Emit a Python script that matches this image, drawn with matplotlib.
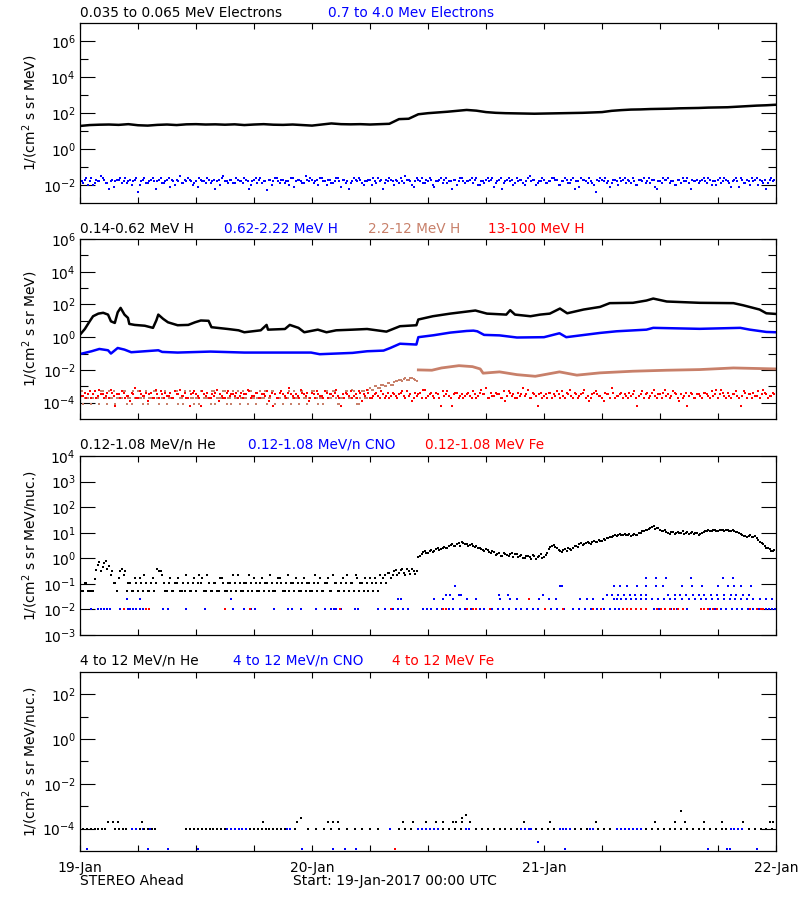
import matplotlib
matplotlib.use('Agg')
import matplotlib.pyplot as plt
import numpy as np

plt.rcParams['font.family'] = 'DejaVu Sans'
plt.rcParams['mathtext.fontset'] = 'dejavusans'

BLUE = '#0000ff'
RED = '#ff0000'
TAN = '#c8806a'

# all values are log10 of the flux; times are hours after 19-Jan-2017 00:00 UTC
# noisy channels are read as two interleaved 20-minute series (":00" and ":10" offsets)

# --- panel 1: electrons
e_lo_v = [1.28, 1.33, 1.35, 1.36, 1.34, 1.38, 1.32, 1.30, 1.34, 1.36,
          1.33, 1.37, 1.38, 1.36, 1.37, 1.35, 1.37, 1.33, 1.36, 1.38,
          1.35, 1.34, 1.36, 1.33, 1.30, 1.36, 1.42, 1.38, 1.37, 1.38,
          1.36, 1.38, 1.40, 1.66, 1.68, 1.93, 1.99, 2.03, 2.07, 2.12,
          2.17, 2.13, 2.05, 2.01, 1.99, 1.98, 1.97, 1.96, 1.97, 1.98,
          1.99, 2.00, 2.01, 2.03, 2.05, 2.12, 2.16, 2.19, 2.20, 2.22,
          2.23, 2.24, 2.26, 2.27, 2.28, 2.30, 2.31, 2.32, 2.35, 2.38,
          2.41, 2.43, 2.46]
e_hi_v = [-1.7, -1.9, -1.6, -1.8, -2.0, -1.7, -1.8, -1.6, -1.9, -2.2, -1.7, -1.8, -1.7, -1.9, -1.6, -1.8, -2.0, -1.7, -2.4, -1.8, -1.6, -1.9, -1.7, -1.8,
          -1.8, -1.6, -1.9, -1.7, -2.1, -1.8, -1.7, -1.5, -1.9, -1.8, -1.7, -2.0, -1.8, -1.6, -1.8, -1.9, -1.7, -1.8, -2.2, -1.7, -1.6, -1.8, -1.9, -1.7,
          -1.9, -1.7, -1.8, -1.6, -1.8, -2.0, -1.7, -1.9, -1.6, -1.8, -2.3, -1.7, -1.8, -1.6, -1.9, -1.7, -1.8, -2.0, -1.6, -1.8, -1.7, -1.9, -1.5, -1.8,
          -1.7, -1.8, -2.0, -1.6, -1.8, -1.7, -1.9, -1.8, -1.6, -2.1, -1.7, -1.8, -1.9, -1.6, -1.8, -1.7, -2.0, -1.8, -1.7, -1.6, -1.9, -1.8, -2.2, -1.7,
          -1.6, -1.8, -1.7, -1.9, -1.8, -1.5, -1.7, -2.0, -1.8, -1.7, -1.6, -1.9, -1.8, -1.7, -2.1, -1.8, -1.6, -1.7, -1.9, -1.8, -1.7, -2.0, -1.6, -1.8,
          -1.8, -1.7, -1.9, -1.6, -2.0, -1.8, -1.7, -1.8, -1.6, -1.9, -1.7, -2.2, -1.8, -1.6, -1.7, -1.9, -1.8, -1.7, -2.0, -1.6, -1.8, -1.7, -1.9, -1.8,
          -1.7, -1.9, -1.8, -1.6, -1.7, -2.0, -1.8, -1.7, -1.9, -1.6, -1.8, -2.1, -1.7, -1.8, -1.6, -1.9, -2.4, -1.8, -1.7, -1.6, -1.8, -1.9, -1.7, -2.0,
          -1.8, -1.6, -1.7, -1.9, -1.8, -2.0, -1.7, -1.6, -1.8, -1.9, -1.7, -2.2, -1.8, -1.6, -1.7, -1.9, -1.8, -2.0, -1.7, -1.6, -1.8, -1.9, -1.7, -1.8,
          -1.9, -1.7, -1.8, -1.6, -2.0, -1.8, -1.7, -1.9, -1.6, -1.8, -2.1, -1.7, -1.8, -1.6, -1.9, -1.7, -2.0, -1.8, -1.6, -1.7, -1.9, -2.2, -1.7, -1.8]
e_hi_v2 = [-1.8, -1.7, -2.0, -1.6, -1.9, -1.8, -1.5, -1.7, -1.9, -1.8, -2.1, -1.7, -1.6, -1.8, -1.9, -1.7, -1.8, -1.6, -2.0, -1.7, -1.9, -1.8, -1.6, -2.2,
           -1.7, -1.9, -1.8, -1.6, -1.7, -2.0, -1.8, -1.9, -1.7, -1.6, -1.8, -1.9, -2.1, -1.7, -1.8, -1.6, -1.9, -1.7, -1.8, -2.0, -1.5, -1.8, -1.7, -1.9,
           -1.6, -1.8, -1.9, -1.7, -2.2, -1.8, -1.6, -1.7, -1.9, -1.8, -1.7, -2.0, -1.6, -1.8, -1.7, -1.9, -1.8, -1.6, -2.1, -1.7, -1.8, -1.9, -1.7, -1.6,
           -1.9, -1.7, -1.6, -1.8, -2.0, -1.7, -1.9, -1.6, -1.8, -1.7, -1.9, -2.2, -1.8, -1.7, -1.6, -1.9, -1.8, -1.7, -2.0, -1.8, -1.6, -1.7, -1.9, -1.8,
           -1.7, -2.0, -1.8, -1.6, -1.9, -1.7, -1.8, -2.1, -1.6, -1.8, -1.9, -1.7, -1.6, -2.0, -1.8, -1.7, -1.9, -1.6, -1.8, -2.2, -1.7, -1.8, -1.6, -1.9,
           -1.8, -1.6, -1.7, -2.0, -1.8, -1.9, -1.6, -1.7, -2.1, -1.8, -1.6, -1.9, -1.7, -1.8, -2.0, -1.6, -1.7, -1.9, -1.8, -1.5, -1.7, -2.0, -1.8, -1.6,
           -1.9, -1.8, -1.6, -1.7, -2.0, -1.8, -1.6, -1.9, -1.7, -2.2, -1.8, -1.6, -1.7, -1.9, -1.8, -2.0, -1.7, -1.6, -1.8, -1.9, -2.1, -1.7, -1.8, -1.6,
           -1.7, -1.9, -1.8, -1.6, -2.0, -1.7, -1.8, -1.9, -1.6, -1.7, -2.1, -1.8, -1.9, -1.7, -1.6, -1.8, -2.0, -1.7, -1.9, -1.8, -1.6, -2.2, -1.8, -1.7,
           -1.8, -1.6, -1.9, -1.7, -1.8, -2.0, -1.6, -1.8, -1.7, -1.9, -1.8, -1.6, -2.1, -1.7, -1.9, -1.8, -1.6, -1.7, -2.0, -1.8, -1.7, -1.9, -1.6, -1.7]

# --- panel 2: protons
h1_t = [0.07, 0.5, 1.0, 1.35, 1.9, 2.4, 2.9, 3.2, 3.6, 3.9, 4.2, 4.6, 4.96, 5.1, 5.65, 6.7, 7.55, 7.9,
        8.1, 8.6, 9.1, 10.1, 11.2, 11.9, 12.5, 13.3, 13.6, 15.3, 16.4, 17.0, 18.7, 19.3, 19.45, 21.2,
        21.7, 22.6, 23.2, 24.6, 25.5, 26.5, 28.2, 29.7, 31.7, 33.1, 34.8, 35.0, 36.5, 38.3, 40.9, 42.1,
        44.1, 44.5, 45.0, 46.6, 47.6, 48.6, 49.65, 50.4, 52.1, 53.8, 54.8, 57.2, 58.6, 59.3, 60.7, 64.1,
        67.6, 68.6, 70.3, 71.0, 72.0]
h1_v = [0.2, 0.5, 0.97, 1.28, 1.44, 1.49, 1.38, 0.97, 0.87, 1.52, 1.79, 1.38, 1.18, 0.81, 0.75, 0.7, 0.57, 1.03,
        1.38, 1.12, 0.91, 0.73, 0.75, 0.91, 1.02, 1.0, 0.61, 0.5, 0.42, 0.3, 0.42, 0.75, 0.46, 0.5,
        0.75, 0.57, 0.3, 0.46, 0.3, 0.42, 0.46, 0.5, 0.34, 0.67, 0.73, 1.08, 1.28, 1.44, 1.63, 1.44,
        1.38, 1.65, 1.38, 1.28, 1.38, 1.44, 1.75, 1.46, 1.69, 1.85, 2.08, 2.1, 2.24, 2.36, 2.18, 2.1,
        2.08, 1.95, 1.69, 1.46, 1.42]
h2_t = [0.07, 1.2, 2.0, 2.9, 3.2, 3.9, 4.6, 5.3, 8.1, 8.5, 10.1, 13.5, 17.0, 20.5, 23.9, 24.8, 26.5,
        28.2, 29.7, 31.4, 32.1, 33.1, 34.8, 35.0, 36.6, 38.3, 40.0, 40.7, 41.1, 41.8, 43.4, 45.2, 48.0,
        49.6, 50.3, 53.8, 55.5, 58.6, 59.3, 64.1, 68.3, 69.3, 71.0, 72.0]
h2_v = [-1.02, -0.86, -0.72, -0.8, -1.0, -0.66, -0.76, -0.92, -0.8, -0.9, -0.94, -0.88, -0.94, -0.94, -0.94, -1.04, -1.0,
        -0.96, -0.86, -0.82, -0.66, -0.4, -0.45, 0.0, 0.12, 0.28, 0.38, 0.4, 0.36, 0.14, 0.11, -0.02, 0.0,
        0.24, 0.0, 0.26, 0.36, 0.46, 0.57, 0.51, 0.57, 0.46, 0.32, 0.3]
h3_early_v = [-3.7, -4.1, -3.7, -3.3, -3.7, -3.7, -4.1, -3.3, -3.7, -3.3, -3.7, -4.1, -3.7, -3.7, -3.3, -3.7, -4.1, -3.7, -3.3, -3.7, -3.7, -4.1, -3.7, -3.3,
              -3.7, -3.3, -3.7, -4.1, -3.7, -3.7, -3.3, -3.7, -4.1, -3.7, -3.3, -3.7, -3.7, -4.1, -3.3, -3.7, -3.7, -3.3, -4.1, -3.7, -3.7, -3.3, -3.7, -4.1,
              -3.7, -3.3, -3.7, -3.7, -4.1, -3.3, -3.7, -3.7, -3.3, -3.7, -4.1, -3.7, -3.3, -3.7, -3.7, -4.1, -3.7, -3.3, -3.7, -3.7, -4.1, -3.3, -3.7, -3.7,
              -3.3, -3.7, -4.1, -3.7, -3.3, -3.7, -3.7, -3.3, -4.1, -3.7, -3.7, -3.3, -3.7, -3.3, -4.1, -3.7, -3.3, -3.7,
              -3.1, -3.2, -3.0, -3.1, -2.9, -3.0, -2.8, -2.9, -2.7, -2.6, -2.7, -2.5, -2.6, -2.5, -2.6]
h3_early_v2 = [-3.3, -3.7, -3.7, -4.1, -3.3, -3.7, -3.3, -3.7, -4.1, -3.7, -3.3, -3.7, -3.7, -3.3, -4.1, -3.7, -3.3, -3.7, -3.7, -4.1, -3.3, -3.7, -3.7, -3.3,
               -4.1, -3.7, -3.3, -3.7, -3.7, -3.3, -4.1, -3.7, -3.3, -3.7, -3.7, -4.1, -3.7, -3.3, -3.7, -3.7, -4.1, -3.3, -3.7, -3.7, -3.3, -4.1, -3.7, -3.3,
               -3.7, -4.1, -3.3, -3.7, -3.3, -3.7, -4.1, -3.7, -3.7, -3.3, -3.7, -3.3, -4.1, -3.7, -3.3, -3.7, -3.7, -4.1, -3.3, -3.7, -3.3, -3.7, -4.1, -3.7,
               -3.3, -3.7, -3.7, -4.1, -3.3, -3.7, -3.3, -3.7, -4.1, -3.7, -3.3, -3.7, -3.2, -3.7, -4.1, -3.3, -3.7, -3.2,
               -3.2, -3.0, -3.1, -2.95, -3.0, -2.8, -2.9, -2.75, -2.7, -2.6, -2.55, -2.6, -2.5, -2.55, -2.7]
h3_t = [35.0, 36.4, 37.4, 39.2, 40.6, 41.4, 41.7, 43.4, 45.2, 47.1, 49.6, 51.4, 53.8, 57.2, 60.7, 64.1, 67.6, 72.0]
h3_v = [-2.0, -2.02, -1.88, -1.74, -1.8, -1.94, -2.2, -2.12, -2.29, -2.39, -2.12, -2.32, -2.18, -2.08, -2.02, -1.98, -1.88, -1.94]
h4_v = [-3.4, -3.6, -3.7, -3.3, -3.5, -3.7, -3.2, -3.5, -3.6, -3.7, -3.4, -4.2, -3.5, -3.3, -3.7, -3.6, -3.4, -3.1, -3.7, -3.5, -3.6, -3.9, -3.4, -3.7,
        -3.5, -3.3, -3.7, -3.6, -3.4, -3.7, -3.5, -3.2, -3.6, -3.7, -4.2, -3.4, -3.5, -3.7, -3.3, -3.6, -3.7, -3.5, -3.4, -3.9, -3.6, -3.7, -3.3, -3.5,
        -3.6, -3.7, -3.4, -3.5, -3.2, -3.7, -3.6, -3.4, -3.7, -3.5, -3.3, -3.6, -4.2, -3.7, -3.4, -3.5, -3.7, -3.1, -3.6, -3.5, -3.7, -3.4, -3.6, -3.9,
        -3.4, -3.7, -3.5, -3.6, -3.3, -3.7, -3.5, -3.4, -3.6, -4.2, -3.7, -3.5, -3.3, -3.6, -3.7, -3.4, -3.5, -3.2, -3.7, -3.6, -3.4, -3.7, -3.5, -3.6,
        -3.7, -3.4, -3.6, -3.5, -3.3, -3.7, -3.6, -3.9, -3.4, -3.5, -3.7, -3.2, -3.6, -3.4, -3.7, -3.5, -4.2, -3.6, -3.3, -3.7, -3.5, -3.4, -3.6, -3.7,
        -3.5, -3.6, -3.3, -3.7, -3.4, -3.5, -3.1, -3.7, -3.6, -3.4, -3.5, -3.7, -3.9, -3.3, -3.6, -3.7, -3.4, -3.5, -3.6, -3.2, -3.7, -3.5, -4.2, -3.4,
        -3.6, -3.7, -3.4, -3.5, -3.3, -3.7, -3.6, -3.4, -3.2, -3.7, -3.5, -3.6, -3.4, -3.7, -3.9, -3.5, -3.3, -3.6, -3.7, -3.4, -3.5, -3.1, -3.7, -3.6,
        -3.4, -3.5, -3.7, -3.6, -3.3, -4.2, -3.5, -3.7, -3.4, -3.6, -3.2, -3.7, -3.5, -3.4, -3.6, -3.7, -3.3, -3.5, -3.9, -3.7, -3.4, -3.6, -3.5, -3.7,
        -3.5, -3.7, -3.4, -3.6, -3.3, -3.5, -3.7, -3.2, -3.6, -3.4, -3.7, -3.5, -3.6, -4.2, -3.3, -3.7, -3.5, -3.4, -3.6, -3.7, -3.2, -3.5, -3.6, -3.4]
h4_v2 = [-3.6, -3.4, -3.5, -3.7, -3.3, -3.6, -3.5, -3.7, -3.4, -3.2, -3.6, -3.5, -3.7, -3.4, -3.6, -3.9, -3.5, -3.7, -3.3, -3.6, -3.4, -3.5, -3.7, -3.2,
         -3.7, -3.5, -3.4, -3.6, -3.7, -3.3, -3.5, -3.6, -3.4, -3.7, -3.5, -3.3, -3.6, -4.2, -3.5, -3.4, -3.7, -3.6, -3.2, -3.5, -3.7, -3.4, -3.6, -3.5,
         -3.4, -3.6, -3.7, -3.5, -3.3, -3.6, -3.4, -3.7, -3.5, -3.6, -3.9, -3.4, -3.5, -3.7, -3.3, -3.6, -3.4, -3.5, -3.7, -3.6, -3.2, -3.5, -3.4, -3.7,
         -3.5, -3.3, -3.6, -3.7, -3.4, -3.5, -3.6, -3.2, -3.7, -3.5, -3.4, -3.6, -3.7, -3.5, -3.3, -3.9, -3.6, -3.4, -3.7, -3.5, -3.6, -3.3, -3.7, -3.4,
         -3.6, -3.5, -3.7, -3.4, -3.6, -3.3, -3.5, -3.7, -3.6, -3.4, -3.2, -3.7, -3.5, -3.6, -3.4, -3.7, -3.3, -3.5, -3.6, -4.2, -3.4, -3.7, -3.5, -3.6,
         -3.4, -3.7, -3.5, -3.6, -3.2, -3.5, -3.7, -3.4, -3.6, -3.5, -3.7, -3.3, -3.6, -3.4, -3.5, -3.7, -3.6, -3.1, -3.5, -3.7, -3.4, -3.6, -3.5, -3.7,
         -3.5, -3.4, -3.7, -3.6, -3.5, -3.3, -3.7, -3.5, -3.6, -3.4, -3.7, -3.5, -3.2, -3.6, -3.7, -3.4, -3.5, -3.6, -3.9, -3.5, -3.7, -3.4, -3.6, -3.5,
         -3.7, -3.6, -3.4, -3.5, -3.7, -3.6, -3.3, -3.5, -3.7, -3.4, -3.6, -3.5, -3.7, -3.2, -3.5, -3.6, -3.4, -3.7, -3.5, -3.6, -4.2, -3.4, -3.7, -3.5,
         -3.6, -3.4, -3.5, -3.7, -3.6, -3.2, -3.5, -3.4, -3.7, -3.6, -3.5, -3.3, -3.7, -3.6, -3.4, -3.5, -3.7, -3.6, -3.3, -3.5, -3.4, -3.7, -3.6, -3.5]

# --- panel 3: 0.12-1.08 MeV/n ions
he_v = [-1.26, -1.26, -0.96, -1.26, -1.26, -0.45, -0.15, -0.35, -0.1, -0.3, -0.5, -0.96, -0.78, -0.4, -0.5, -0.96,
        -1.26, -0.78, -1.26, -0.96, -0.66, -1.26, -0.96, -1.26, -0.4, -0.5, -0.96, -1.26, -0.78, -1.26, -0.96, -1.26,
        -0.96, -0.66, -1.26, -0.96, -1.26, -0.66, -0.78, -1.26, -0.96, -1.26, -0.96, -1.26, -0.78, -1.26, -0.96, -1.26,
        -0.96, -0.66, -1.26, -0.96, -1.26, -0.96, -0.78, -1.26, -0.96, -1.26, -0.96, -0.66, -1.26, -0.96, -0.78, -1.26,
        -0.96, -1.26, -0.96, -0.78, -1.26, -0.96, -1.26, -0.96, -1.26, -0.66, -0.96, -1.26, -0.96, -0.78, -1.26, -0.96,
        -1.26, -0.96, -1.26, -0.66, -0.96, -1.26, -0.78, -0.96, -1.26, -0.96, -0.78, -1.26, -0.96, -0.66, -0.78, -0.96,
        -0.56, -0.66, -0.45, -0.56, -0.4, -0.66, -0.5, -0.4,
        -0.6, 0.05, 0.18, 0.28, 0.22, 0.33, 0.3, 0.4, 0.35, 0.45, 0.42, 0.52, 0.48, 0.56, 0.5, 0.6,
        0.55, 0.52, 0.47, 0.5, 0.4, 0.32, 0.38, 0.25, 0.3, 0.12, 0.2, 0.1, 0.18, 0.08, 0.22, 0.15,
        0.05, 0.12, 0.02, 0.1, -0.02, 0.08, 0.04, 0.15, 0.05, 0.22, 0.45, 0.52, 0.4, 0.28, 0.32, 0.3,
        0.38, 0.42, 0.5, 0.55, 0.52, 0.6, 0.58, 0.65, 0.62, 0.7, 0.66, 0.72, 0.8, 0.85, 0.9, 0.93,
        0.9, 0.96, 0.92, 0.88, 0.95, 0.9, 1.0, 1.08, 1.12, 1.2, 1.25, 1.18, 1.12, 1.05, 1.02, 0.96,
        1.04, 1.0, 0.98, 1.05, 1.0, 0.95, 1.02, 0.98, 0.92, 0.97, 1.05, 1.1, 1.08, 1.12, 1.06, 1.1,
        1.08, 1.12, 1.05, 1.08, 1.02, 0.95, 0.88, 0.85, 0.9, 0.84, 0.8, 0.65, 0.55, 0.42, 0.35, 0.3]
he_v2 = [-1.26, -0.96, -1.26, -1.26, -0.8, -0.25, -0.5, -0.2, -0.4, -0.66, -0.96, -1.26, -0.5, -0.66, -1.26, -0.96,
         -1.26, -0.96, -0.78, -1.26, -0.96, -1.26, -0.78, -0.96, -0.5, -0.66, -1.26, -0.96, -1.26, -0.96, -0.78, -1.26,
         -1.26, -0.96, -1.26, -0.78, -0.96, -0.96, -1.26, -0.66, -1.26, -0.96, -1.26, -0.78, -0.96, -1.26, -0.96, -0.66,
         -1.26, -0.96, -1.26, -0.96, -0.66, -1.26, -0.96, -1.26, -0.78, -0.96, -1.26, -0.96, -1.26, -0.78, -0.96, -1.26,
         -0.66, -0.96, -1.26, -0.96, -1.26, -0.78, -0.96, -1.26, -0.96, -1.26, -0.78, -1.26, -0.96, -1.26, -0.66, -0.96,
         -1.26, -0.78, -0.96, -1.26, -0.96, -0.66, -1.26, -0.96, -0.78, -1.26, -0.96, -0.78, -1.26, -0.96, -0.66, -0.56,
         -0.78, -0.5, -0.66, -0.45, -0.56, -0.4, -0.6, -0.5,
         -0.5, 0.1, 0.25, 0.2, 0.3, 0.26, 0.36, 0.32, 0.42, 0.4, 0.47, 0.55, 0.5, 0.58, 0.62, 0.54,
         0.5, 0.56, 0.45, 0.42, 0.35, 0.28, 0.33, 0.2, 0.26, 0.16, 0.1, 0.2, 0.12, 0.16, 0.05, 0.18,
         0.1, 0.0, 0.08, 0.05, 0.12, -0.04, 0.1, 0.02, 0.12, 0.35, 0.5, 0.45, 0.32, 0.25, 0.35, 0.4,
         0.34, 0.48, 0.45, 0.58, 0.55, 0.62, 0.56, 0.68, 0.64, 0.68, 0.74, 0.78, 0.82, 0.88, 0.86, 0.95,
         0.93, 0.9, 0.96, 0.9, 0.93, 0.98, 1.05, 1.1, 1.16, 1.22, 1.15, 1.2, 1.08, 1.1, 0.98, 1.02,
         0.96, 1.03, 1.0, 0.96, 1.03, 0.98, 0.94, 0.99, 0.95, 1.02, 1.08, 1.06, 1.1, 1.07, 1.12, 1.09,
         1.1, 1.06, 1.1, 1.04, 0.98, 0.92, 0.86, 0.88, 0.82, 0.86, 0.72, 0.6, 0.5, 0.4, 0.28, 0.32]
cno_levels = [-2.0, -1.6, -1.43, -1.1, -0.78]
cno_times = [
    [1.1, 1.9, 2.2, 2.5, 2.8, 3.1, 4.1, 5.0, 5.2, 5.5, 5.8, 6.2, 6.5, 8.6, 9.1, 11.0, 12.9, 15.8, 17.0, 17.7,
     18.1, 20.1, 21.5, 21.9, 22.9, 24.4, 25.3, 26.0, 26.3, 26.5, 27.0, 28.4, 28.8, 30.8, 31.5, 32.4, 32.9,
     33.4, 33.9, 35.5, 35.9, 36.3, 36.9, 37.4, 38.2, 38.6, 39.3, 39.8, 40.4, 41.4, 41.8, 42.6, 43.2, 43.8,
     44.4, 45.1, 45.6, 46.2, 46.9, 47.4, 48.7, 49.3, 50.1, 51.0, 51.6, 52.2, 52.9, 53.5, 54.2, 54.8, 55.3,
     55.8, 59.4, 59.9, 60.5, 61.1, 61.8, 62.8, 65.2, 65.7, 66.3, 66.8, 67.4, 68.0, 68.5, 69.1, 69.6, 70.2,
     70.6, 71.0, 71.3, 71.6, 71.9],
    [4.9, 6.2, 15.6, 32.9, 33.2, 36.6, 37.6, 38.6, 40.0, 41.0, 43.4, 44.5, 45.2, 47.5, 48.5, 49.2, 51.7,
     52.4, 53.1, 54.1, 55.2, 55.6, 56.0, 56.5, 57.0, 57.5, 58.0, 58.6, 59.2, 59.8, 60.4, 61.0, 61.6, 62.3,
     63.0, 63.6, 64.2, 64.8, 65.4, 66.0, 66.6, 67.2, 67.8, 68.4, 69.0, 69.6, 70.3, 71.0, 71.6],
    [37.9, 38.3, 39.2, 39.4, 43.3, 44.3, 47.9, 54.5, 55.0, 55.7, 56.3, 56.9, 57.4, 58.0, 58.6, 60.8, 61.5,
     62.1, 62.7, 63.4, 64.0, 64.6, 65.3, 65.9, 66.6, 67.3, 67.9, 68.6, 69.2],
    [38.8, 49.7, 49.9, 55.2, 55.9, 56.6, 57.6, 58.6, 59.6, 60.3, 62.3, 63.3, 64.3, 66.0, 67.0, 67.7, 68.4, 69.4],
    [58.6, 59.6, 60.6, 63.2, 66.5, 67.5],
]
fe_levels = [-2.0, -1.6]
fe_times = [
    [4.5, 6.8, 7.1, 15.0, 17.6, 26.9, 32.2, 37.6, 37.9, 40.0, 40.7, 41.0, 42.4, 48.1, 50.0, 53.1, 53.9, 56.2,
     56.6, 57.0, 57.5, 58.0, 58.6, 59.7, 60.1, 60.5, 61.0, 61.4, 61.9, 62.4, 64.2, 64.6, 65.0, 65.5, 65.9,
     69.3, 70.0, 70.4, 70.7],
    [46.4],
]

# --- panel 4: 4-12 MeV/n ions
he4_levels = [-4.0, -3.7, -3.53, -3.4, -3.22]
he4_times = [
    [0.3, 0.7, 1.1, 1.5, 1.9, 2.3, 2.6, 3.6, 4.0, 4.4, 4.8, 6.2, 6.6, 7.0, 7.4, 7.8, 11.0, 11.4, 11.8, 12.2,
     12.6, 13.0, 13.4, 13.8, 14.2, 14.6, 15.0, 17.6, 18.0, 18.4, 18.8, 19.2, 19.6, 20.0, 20.4, 20.8, 21.2,
     22.2, 23.6, 24.4, 25.2, 26.0, 26.8, 27.6, 28.4, 29.2, 30.0, 30.8, 33.0, 33.6, 34.2, 37.6, 38.2, 38.8,
     39.4, 41.0, 41.6, 42.2, 42.8, 43.4, 44.0, 44.6, 45.2, 47.2, 47.8, 48.4, 49.0, 51.2, 51.8, 52.4, 53.6,
     54.2, 54.8, 58.6, 59.2, 59.8, 60.4, 61.0, 61.6, 62.2, 62.8, 63.4, 64.0, 64.6, 65.2, 65.8, 66.4, 66.8,
     69.2, 69.8, 70.4, 71.0, 71.6],
    [2.9, 3.4, 3.9, 6.4, 18.9, 22.4, 25.7, 26.2, 26.7, 33.4, 34.4, 35.8, 36.8, 37.5, 38.6, 38.9, 39.5, 40.3,
     45.9, 48.6, 53.4, 59.5, 61.6, 62.6, 64.5, 66.4, 68.6, 71.4, 71.7],
    [22.9, 39.5],
    [39.9],
    [62.2],
]
cno4_levels = [-4.0, -4.6, -4.89]
cno4_times = [
    [5.4, 5.8, 6.2, 6.5, 7.2, 15.2, 15.6, 16.0, 16.4, 16.8, 17.2, 21.4, 21.7, 32.1, 35.0, 35.4, 35.8, 36.2,
     36.6, 37.0, 39.9, 40.2, 45.6, 46.0, 46.4, 46.7, 49.7, 50.0, 50.3, 50.7, 52.8, 53.1, 55.6, 56.0, 56.4,
     56.8, 57.2, 57.6, 58.0, 67.3, 67.7, 68.1, 68.5],
    [47.4],
    [0.7, 7.0, 9.1, 12.2, 23.0, 26.2, 27.4, 28.6, 50.2, 65.0, 66.9, 67.2, 70.0],
]
fe4_t = [32.6]
fe4_v = [-4.89]

day_labels = ['19-Jan', '20-Jan', '21-Jan', '22-Jan']


def hours20(vals, start=0.0):
    # samples at a 20 minute cadence
    return start + np.arange(len(vals)) / 3.0


def dots(ax, t, v, color, ms=1.9):
    ax.plot(t, np.power(10.0, v), 's', color=color, ms=ms, mew=0, ls='none')


def trace(ax, t, v, color, lw=1.8):
    ax.plot(t, np.power(10.0, v), '-', color=color, lw=lw)


fig = plt.figure(figsize=(8, 9), dpi=100)
boxes = [(23, 203), (239, 419), (456, 635), (671.7, 851)]
axs = [fig.add_axes([80 / 800, 1 - b / 900, 696 / 800, (b - t) / 900]) for t, b in boxes]


def style(ax, lo, hi, major, minor, ylab):
    ax.set_yscale('log')
    ax.set_ylim(10.0 ** lo, 10.0 ** hi)
    ax.set_xlim(0, 72)
    ax.set_xticks(np.arange(0, 73, 6))
    ax.set_xticklabels([])
    ax.tick_params(axis='x', direction='in', top=True, bottom=True, length=4.5, width=0.8)
    ax.set_yticks([10.0 ** e for e in major])
    ax.set_yticklabels(['$10^{%d}$' % e for e in major])
    ax.set_yticks([10.0 ** e for e in minor], minor=True)
    ax.set_yticklabels([], minor=True)
    ax.tick_params(axis='y', which='major', direction='in', left=True, right=True,
                   length=11, width=0.8, labelsize=10, pad=3)
    ax.tick_params(axis='y', which='minor', direction='in', left=True, right=True,
                   length=6, width=0.8)
    for s in ax.spines.values():
        s.set_linewidth(0.9)
    ax.set_ylabel(ylab, fontsize=10)
    ax.yaxis.set_label_coords(-0.058, 0.5)


def title(y, parts):
    for x, s, c in parts:
        fig.text(x / 800, 1 - y / 900, s, color=c, fontsize=9.8, va='center', ha='left')


# panel 1
ax = axs[0]
dots(ax, hours20(e_hi_v), e_hi_v, BLUE)
dots(ax, hours20(e_hi_v2, 1 / 6), e_hi_v2, BLUE)
trace(ax, np.arange(len(e_lo_v)), e_lo_v, 'k')
style(ax, -3, 7, [-2, 0, 2, 4, 6], [-1, 1, 3, 5], '1/(cm$^2$ s sr MeV)')
title(13, [(80, '0.035 to 0.065 MeV Electrons', 'k'), (328, '0.7 to 4.0 Mev Electrons', BLUE)])

# panel 2
ax = axs[1]
dots(ax, hours20(h3_early_v), h3_early_v, TAN)
dots(ax, hours20(h3_early_v2, 1 / 6), h3_early_v2, TAN)
trace(ax, h3_t, h3_v, TAN, lw=2.0)
dots(ax, hours20(h4_v), h4_v, RED)
dots(ax, hours20(h4_v2, 1 / 6), h4_v2, RED)
trace(ax, h2_t, h2_v, BLUE)
trace(ax, h1_t, h1_v, 'k')
style(ax, -5, 6, [-4, -2, 0, 2, 4, 6], [-3, -1, 1, 3, 5], '1/(cm$^2$ s sr MeV)')
title(229, [(80, '0.14-0.62 MeV H', 'k'), (224, '0.62-2.22 MeV H', BLUE),
            (368, '2.2-12 MeV H', TAN), (488, '13-100 MeV H', RED)])

# panel 3
ax = axs[2]
dots(ax, hours20(he_v), he_v, 'k')
dots(ax, hours20(he_v2, 1 / 6), he_v2, 'k')
for lev, tt in zip(cno_levels, cno_times):
    dots(ax, tt, [lev] * len(tt), BLUE, ms=2.0)
for lev, tt in zip(fe_levels, fe_times):
    dots(ax, tt, [lev] * len(tt), RED, ms=2.0)
style(ax, -3, 4, [-3, -2, -1, 0, 1, 2, 3, 4], [], '1/(cm$^2$ s sr MeV/nuc.)')
title(445, [(80, '0.12-1.08 MeV/n He', 'k'), (248, '0.12-1.08 MeV/n CNO', BLUE),
            (425, '0.12-1.08 MeV Fe', RED)])

# panel 4
ax = axs[3]
for lev, tt in zip(cno4_levels, cno4_times):
    dots(ax, tt, [lev] * len(tt), BLUE)
for lev, tt in zip(he4_levels, he4_times):
    dots(ax, tt, [lev] * len(tt), 'k')
dots(ax, fe4_t, fe4_v, RED)
style(ax, -5, 3, [-4, -2, 0, 2], [-3, -1, 1], '1/(cm$^2$ s sr MeV/nuc.)')
title(661, [(80, '4 to 12 MeV/n He', 'k'), (233, '4 to 12 MeV/n CNO', BLUE),
            (392, '4 to 12 MeV Fe', RED)])
ax.set_xticklabels([day_labels[i // 4] if i % 4 == 0 else '' for i in range(13)], fontsize=10)
ax.tick_params(axis='x', pad=7)

fig.text(80 / 800, 1 - 881 / 900, 'STEREO Ahead', fontsize=10, va='center', ha='left')
fig.text(293 / 800, 1 - 881 / 900, 'Start: 19-Jan-2017 00:00 UTC', fontsize=10, va='center', ha='left')

fig.savefig('out.png', dpi=100)
